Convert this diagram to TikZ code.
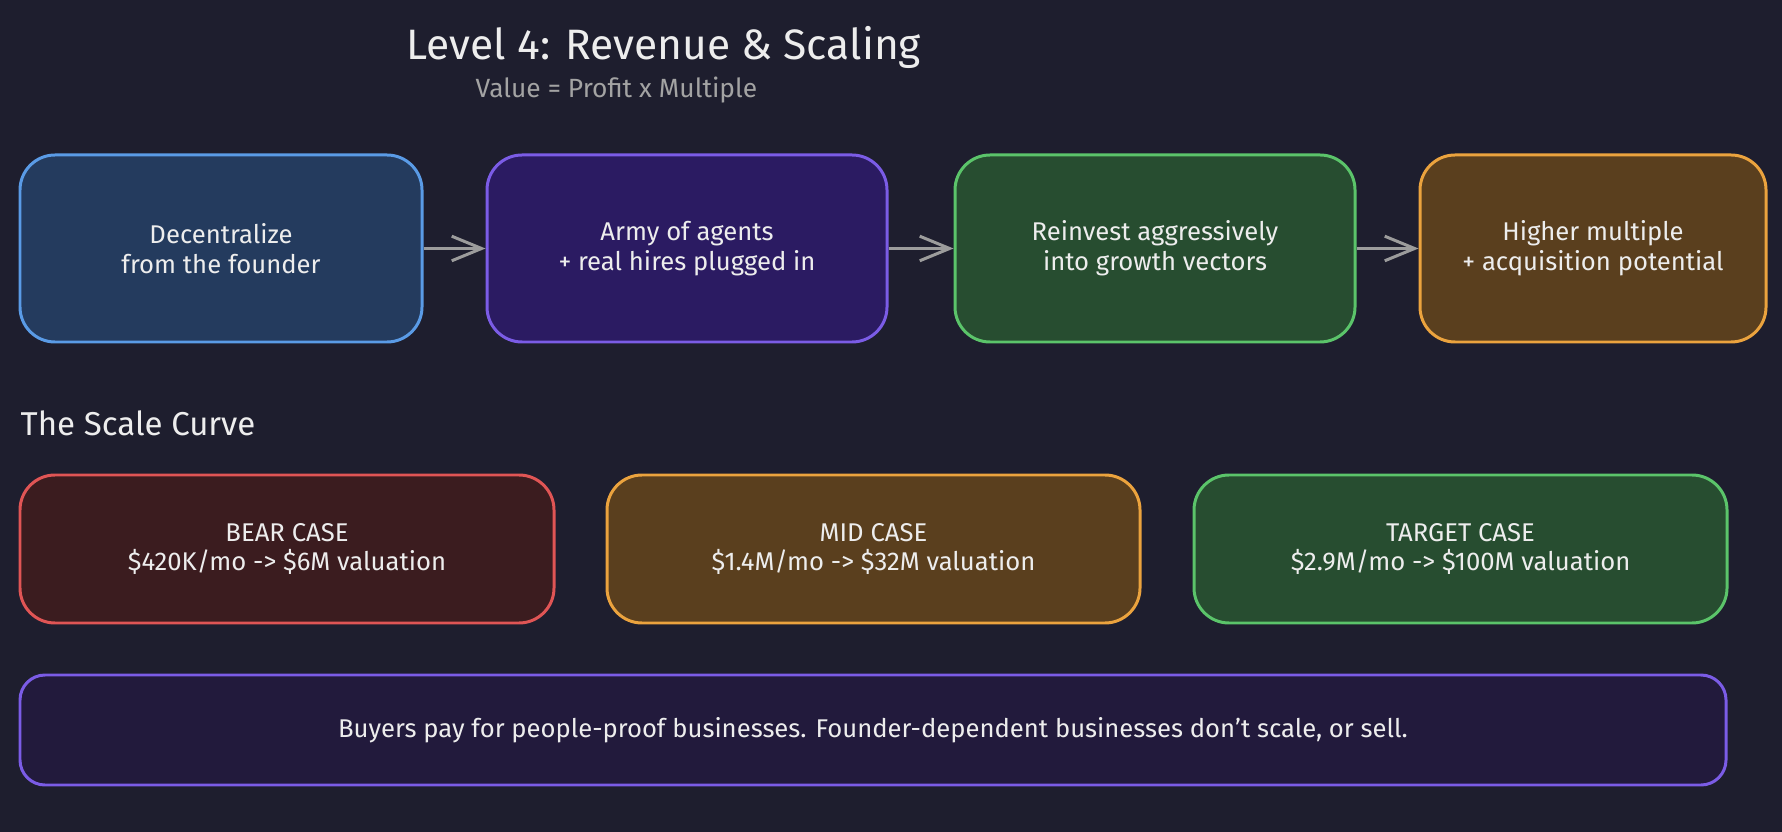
\documentclass[tikz,border=0pt]{standalone}
\usepackage{fontspec}
\setmainfont{Fira Sans}
\usetikzlibrary{arrows.meta}

\definecolor{bgdark}{HTML}{1E1E2E}
\definecolor{txtwhite}{HTML}{EDEDED}
\definecolor{txtgray}{HTML}{A3A3A3}
\definecolor{arrowgray}{HTML}{9C9C9C}
\definecolor{blueline}{HTML}{5A9BE6}
\definecolor{bluefill}{HTML}{243B5E}
\definecolor{purpleline}{HTML}{7B5CE6}
\definecolor{purplefill}{HTML}{2B1B62}
\definecolor{darkpurplefill}{HTML}{221A3C}
\definecolor{greenline}{HTML}{5BC46A}
\definecolor{greenfill}{HTML}{274D30}
\definecolor{orangeline}{HTML}{EBA33E}
\definecolor{brownfill}{HTML}{5A3F1E}
\definecolor{redline}{HTML}{E05555}
\definecolor{redfill}{HTML}{3B1C1F}

\begin{document}
\begin{tikzpicture}[font=\fontsize{7.3}{8.5}\selectfont,>={Straight Barb[length=8.5pt,width=7pt]},
    box/.style={draw,line width=0.85pt,rounded corners=0.35cm,align=center,text=txtwhite,inner sep=0pt},
    flowbox/.style={box,minimum width=4cm,minimum height=1.87cm},
    casebox/.style={box,minimum width=5.33cm,minimum height=1.48cm},
    heading/.style={anchor=base west,inner sep=0pt,text=txtwhite},
    flow/.style={->,draw=arrowgray,line width=0.85pt}]
    \fill[bgdark] (0,0) rectangle (17.82,-8.32);
    \useasboundingbox (0,0) rectangle (17.82,-8.32);
    \node[heading,font=\fontsize{12.1}{14}\selectfont] (title) at (4.06,-0.60) {Level 4: Revenue \& Scaling};
    \node[heading,text=txtgray,font=\fontsize{7.5}{9}\selectfont] (subtitle) at (4.75,-0.98) {Value = Profit x Multiple};
    \node[flowbox,draw=blueline,fill=bluefill,minimum width=4.02cm] (decentral) at (2.21,-2.485) {Decentralize\\from the founder};
    \node[flowbox,draw=purpleline,fill=purplefill] (agents) at (6.87,-2.485) {Army of agents\\+ real hires plugged in};
    \node[flowbox,draw=greenline,fill=greenfill] (reinvest) at (11.55,-2.485) {Reinvest aggressively\\into growth vectors};
    \node[flowbox,draw=orangeline,fill=brownfill,minimum width=3.46cm] (multiple) at (15.93,-2.485) {Higher multiple\\+ acquisition potential};
    \draw[flow] (decentral) -- (agents);
    \draw[flow] (agents) -- (reinvest);
    \draw[flow] (reinvest) -- (multiple);
    \node[heading,font=\fontsize{9.4}{11}\selectfont] (curve) at (0.20,-4.36) {The Scale Curve};
    \node[casebox,draw=redline,fill=redfill,minimum width=5.34cm] (bear) at (2.87,-5.49) {BEAR CASE\\\$420K/mo -> \$6M valuation};
    \node[casebox,draw=orangeline,fill=brownfill] (mid) at (8.735,-5.49) {MID CASE\\\$1.4M/mo -> \$32M valuation};
    \node[casebox,draw=greenline,fill=greenfill] (target) at (14.605,-5.49) {TARGET CASE\\\$2.9M/mo -> \$100M valuation};
    \node[box,draw=purpleline,fill=darkpurplefill,rounded corners=0.25cm,minimum width=17.06cm,minimum height=1.10cm] (buyers) at (8.73,-7.30)
      {Buyers pay for people-proof businesses. Founder-dependent businesses don’t scale, or sell.};
  \end{tikzpicture}
\end{document}
